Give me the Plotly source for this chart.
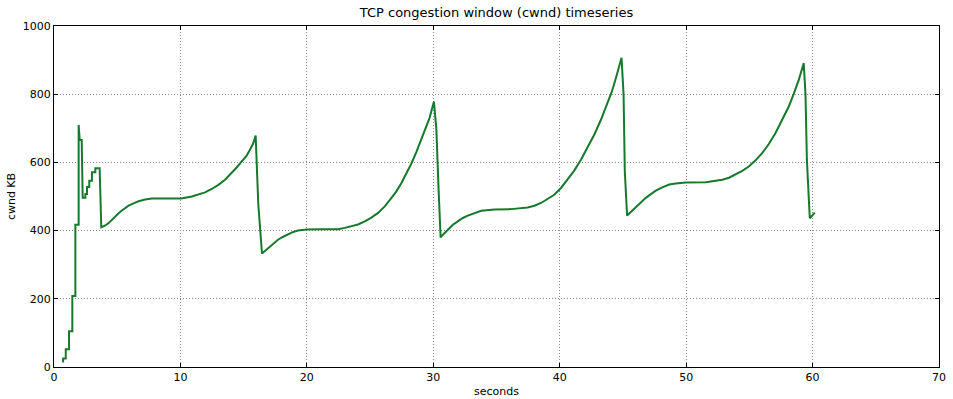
import plotly.graph_objects as go

# time (s) and cwnd (KB)
seconds = [
    0.72, 0.72, 0.93, 0.93, 1.19, 1.19, 1.45, 1.45, 1.69, 1.69, 1.95, 1.95, 2.03, 2.19, 2.27,
    2.48, 2.48, 2.61, 2.61, 2.79, 2.79, 3.00, 3.00, 3.27, 3.27, 3.61, 3.74,
    4.06, 4.32, 4.58, 4.85, 5.11, 5.37, 5.64, 5.90, 6.29, 6.69, 7.21, 7.74, 8.79, 10.06,
    10.90, 11.42, 11.95, 12.48, 13.00, 13.53, 14.06, 14.45, 14.85, 15.24, 15.50, 15.76, 15.95,
    16.16, 16.45,
    16.69, 16.95, 17.34, 17.74, 18.13, 18.53, 18.92, 19.30, 19.98, 21.16, 22.47, 23.00, 23.53,
    24.05, 24.58, 25.10, 25.63, 26.16, 26.69, 27.08, 27.47, 27.87, 28.26, 28.66, 29.05, 29.37,
    29.70, 30.05,
    30.24, 30.42, 30.58,
    30.84, 31.15, 31.55, 31.94, 32.34, 32.73, 33.26, 33.79, 34.84, 36.16, 37.47, 38.00, 38.52,
    39.05, 39.57, 40.10, 40.62, 41.15, 41.68, 42.20, 42.73, 43.26, 43.78, 44.13, 44.44, 44.89,
    45.05, 45.15, 45.33,
    45.63, 46.02, 46.42, 46.81, 47.21, 47.60, 48.12, 48.65, 49.18, 49.97, 51.55, 52.86, 53.39,
    53.91, 54.44, 54.96, 55.49, 56.01, 56.54, 57.07, 57.59, 58.12, 58.51, 58.91, 59.30,
    59.44, 59.55, 59.66, 59.78, 60.17,
]
cwnd_kb = [
    13, 25, 25, 52, 52, 105, 105, 208, 208, 417, 417, 710, 666, 666, 496,
    496, 507, 507, 528, 528, 546, 546, 571, 571, 583, 583, 410,
    415, 422, 432, 442, 451, 459, 466, 473, 480, 486, 491, 494, 494, 494,
    500, 505, 512, 522, 534, 549, 569, 585, 603, 620, 637, 656, 679,
    476, 333,
    341, 349, 362, 374, 382, 390, 396, 400, 403, 404, 404, 408, 413,
    418, 427, 438, 452, 471, 496, 515, 539, 567, 596, 630, 666, 697,
    730, 778,
    700, 520, 380,
    391, 403, 417, 427, 437, 444, 452, 458, 462, 463, 468, 473, 481,
    492, 505, 525, 549, 576, 608, 642, 681, 725, 774, 808, 847, 907,
    800, 573, 444,
    455, 468, 482, 496, 507, 517, 527, 535, 538, 541, 542, 549, 555,
    564, 575, 588, 606, 627, 654, 686, 723, 764, 801, 842, 891,
    800, 608, 540, 436, 453,
]

x_ticks = [0, 10, 20, 30, 40, 50, 60, 70]
y_ticks = [0, 200, 400, 600, 800, 1000]

font = "DejaVu Sans, Liberation Sans, sans-serif"

fig = go.Figure()
fig.add_trace(go.Scatter(
    x=seconds, y=cwnd_kb, mode="lines",
    line=dict(color="#16792c", width=2),
    showlegend=False,
))

axis_common = dict(
    showline=True, linecolor="black", linewidth=1, mirror="allticks",
    ticks="inside", ticklen=4, tickcolor="black",
    showgrid=True, gridcolor="#8a8a8a", griddash="1px,2px", gridwidth=1,
    zeroline=False, automargin=False,
    tickfont=dict(family=font, size=11, color="black"),
)

fig.update_layout(
    width=953, height=399,
    paper_bgcolor="white", plot_bgcolor="white",
    margin=dict(l=54, r=14, t=26, b=32),
    title=dict(text="TCP congestion window (cwnd) timeseries",
               xref="paper", x=0.5, xanchor="center",
               yref="container", y=1 - 12 / 399, yanchor="middle",
               font=dict(family=font, size=13, color="black")),
    font=dict(family=font, color="black"),
    xaxis=dict(range=[0, 70], tickvals=x_ticks,
               title=dict(text="seconds", font=dict(family=font, size=11), standoff=4),
               **axis_common),
    yaxis=dict(range=[0, 1000], tickvals=y_ticks,
               title=dict(text="cwnd KB", font=dict(family=font, size=11), standoff=4),
               **axis_common),
)

fig.write_html(
    "out.html",
    config={"displayModeBar": False},
    post_script="document.body.style.margin='0';document.body.style.padding='0';",
)
